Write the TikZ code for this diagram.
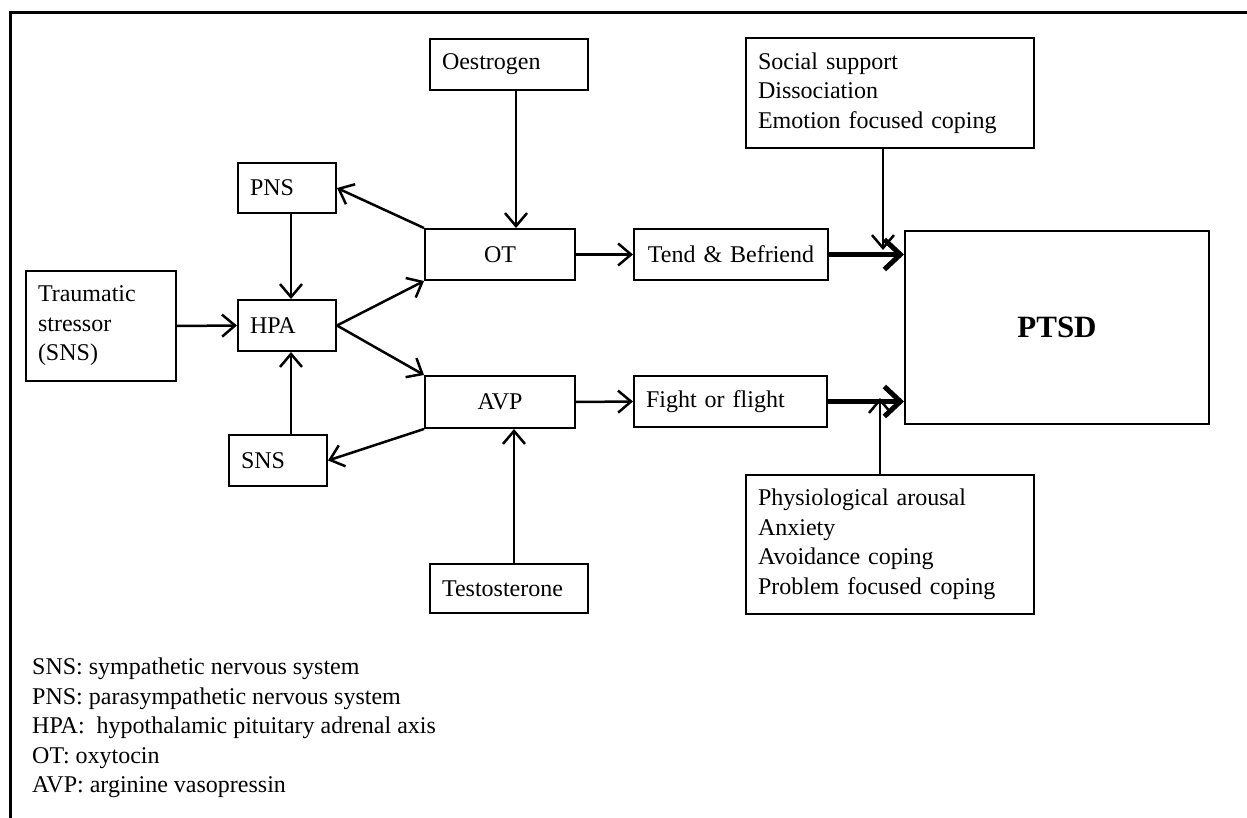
\documentclass[tikz,border=0pt]{standalone}
\usepackage{fontspec}
\setmainfont{Liberation Serif}
\usetikzlibrary{arrows.meta}
\begin{document}
\begin{tikzpicture}[x=1pt,y=-1pt,
  txt/.style={font=\fontsize{24}{29.5}\selectfont},
  box/.style={draw, line width=2pt, anchor=north west, inner xsep=12pt, inner ysep=0pt, align=left, txt},
  cbox/.style={box, align=center},
  arr/.style={line width=2.5pt, -{Straight Barb[length=13pt,width=22pt,line width=2.5pt]}},
  bigarr/.style={line width=5pt, -{Straight Barb[length=16pt,width=30pt,line width=5pt]}}
]
\useasboundingbox (0,0) rectangle (1247,818);
% frame
\draw[line width=3pt] (1247,13) -- (10,13) -- (10,818);

% nodes
\node[box, minimum width=98pt, minimum height=50pt, text width=74pt] (pns) at (237,162) {PNS};
\node[box, minimum width=98pt, minimum height=51pt, text width=74pt] (hpa) at (237,299) {HPA};
\node[box, minimum width=98pt, minimum height=51pt, text width=74pt] (sns) at (228,434) {SNS};
\node[box, minimum width=150pt, minimum height=110pt, text width=126pt] (trauma) at (25,270) {Traumatic\\stressor\\(SNS)};
\node[cbox, minimum width=150pt, minimum height=51pt, text width=126pt] (ot) at (424,228) {OT};
\node[cbox, minimum width=150pt, minimum height=52pt, text width=126pt] (avp) at (424,375) {AVP};
\node[cbox, minimum width=194pt, minimum height=51pt, text width=170pt] (tend) at (633,228) {Tend \& Befriend};
\node[box, minimum width=193pt, minimum height=51pt, text width=169pt] (fight) at (633,375) {Fight or flight};
\node[cbox, minimum width=304pt, minimum height=193pt, text width=280pt, font=\fontsize{31}{36}\selectfont\bfseries] (ptsd) at (904,230) {PTSD};
\node[box, minimum width=288pt, minimum height=110pt, text width=264pt] (soc) at (745,37) {Social support\\Dissociation\\Emotion focused coping};
\node[box, minimum width=288pt, minimum height=139pt, text width=264pt] (phys) at (745,474) {Physiological arousal\\Anxiety\\Avoidance coping\\Problem focused coping};
\node[box, minimum width=158pt, minimum height=51pt, text width=134pt] (oes) at (429,38) {Oestrogen};
\node[box, minimum width=158pt, minimum height=49pt, text width=134pt] (test) at (429,563) {Testosterone};

% legend
\node[txt, anchor=north west, inner sep=0pt, align=left] (legend) at (32,658)
  {SNS: sympathetic nervous system\\PNS: parasympathetic nervous system\\HPA:\ \ hypothalamic pituitary adrenal axis\\OT: oxytocin\\AVP: arginine vasopressin};

% junction points on the thick arrows
\coordinate (j1) at (883,250);
\coordinate (j2) at (880,398);

% connectors
\draw[arr] (trauma.east) -- (hpa.west);
\draw[arr] ([xshift=4pt]pns.south) -- ([xshift=4pt]hpa.north);
\draw[arr] ([xshift=13pt]sns.north) -- ([xshift=4pt]hpa.south);
\draw[arr] (hpa.east) -- (ot.south west);
\draw[arr] (hpa.east) -- (avp.north west);
\draw[arr] (ot.north west) -- (pns.east);
\draw[arr] (avp.south west) -- (sns.east);
\draw[arr] ([xshift=7pt]oes.south) -- ([xshift=16pt]ot.north);
\draw[arr] ([xshift=5pt]test.north) -- ([xshift=14pt]avp.south);
\draw[arr] (ot.east) -- (tend.west);
\draw[arr] (avp.east) -- (fight.west);
\draw[bigarr] (tend.east) -- (tend.east -| ptsd.west);
\draw[bigarr] (fight.east) -- (fight.east -| ptsd.west);
\draw[arr] (soc.south -| j1) -- (j1);
\draw[arr] (phys.north -| j2) -- (j2);
\end{tikzpicture}
\end{document}
